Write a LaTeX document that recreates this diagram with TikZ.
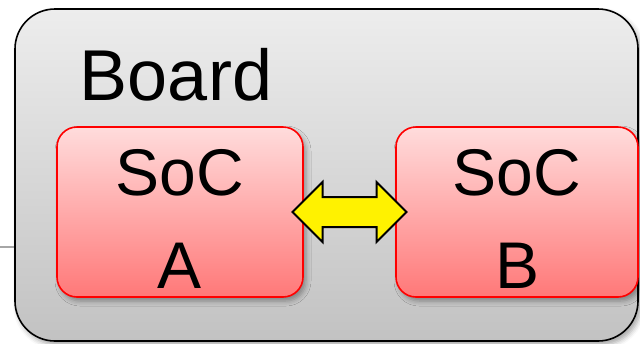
\documentclass[tikz,border=0pt]{standalone}
\usepackage{fontspec}
\setmainfont{Liberation Sans}
\usetikzlibrary{calc,shapes.arrows,shadows.blur}
\definecolor{boardtop}{HTML}{EDEDED}
\definecolor{boardbot}{HTML}{C2C2C2}
\definecolor{soctop}{HTML}{FFDCDC}
\definecolor{socbot}{HTML}{FF7878}
\tikzset{
  soft shadow/.style={blur shadow={shadow xshift=1.5pt,shadow yshift=-2pt,shadow blur radius=2.5pt,shadow opacity=35}},
  board/.style={draw=black,line width=0.8pt,rounded corners=20pt,top color=boardtop,bottom color=boardbot,
    minimum width=311.5pt,minimum height=166pt,soft shadow},
  soc/.style={draw=red,line width=0.8pt,rounded corners=10pt,top color=soctop,bottom color=socbot,
    inner sep=0pt,minimum height=85pt,align=center,font=\fontsize{33}{46.5}\selectfont,soft shadow},
  link/.style={double arrow,draw=black,line width=1pt,fill=yellow,inner sep=7pt,
    minimum height=57pt,double arrow head extend=7.5pt}
}
\newcommand\chipname[1]{\rule{0pt}{30pt}SoC\\#1}
\begin{document}
\begin{tikzpicture}[x=0.5pt,y=-0.5pt]
  \useasboundingbox (0,0) rectangle (640,343);
  \coordinate (in) at (0,247);
  \node[board] (board) at (326.5,175) {};
  \draw[gray!70,line width=0.8pt] (in) -- (in -| board.west);
  \node[font=\fontsize{36}{46}\selectfont,anchor=base] (title) at (176,100) {Board};
  \node[soc,minimum width=123pt] (socA) at (180,212) {\chipname{A}};
  \node[soc,minimum width=121pt] (socB) at (517,212) {\chipname{B}};
  \node[link] (bus) at ($(socA.east)!0.5!(socB.west)$) {};
\end{tikzpicture}
\end{document}
